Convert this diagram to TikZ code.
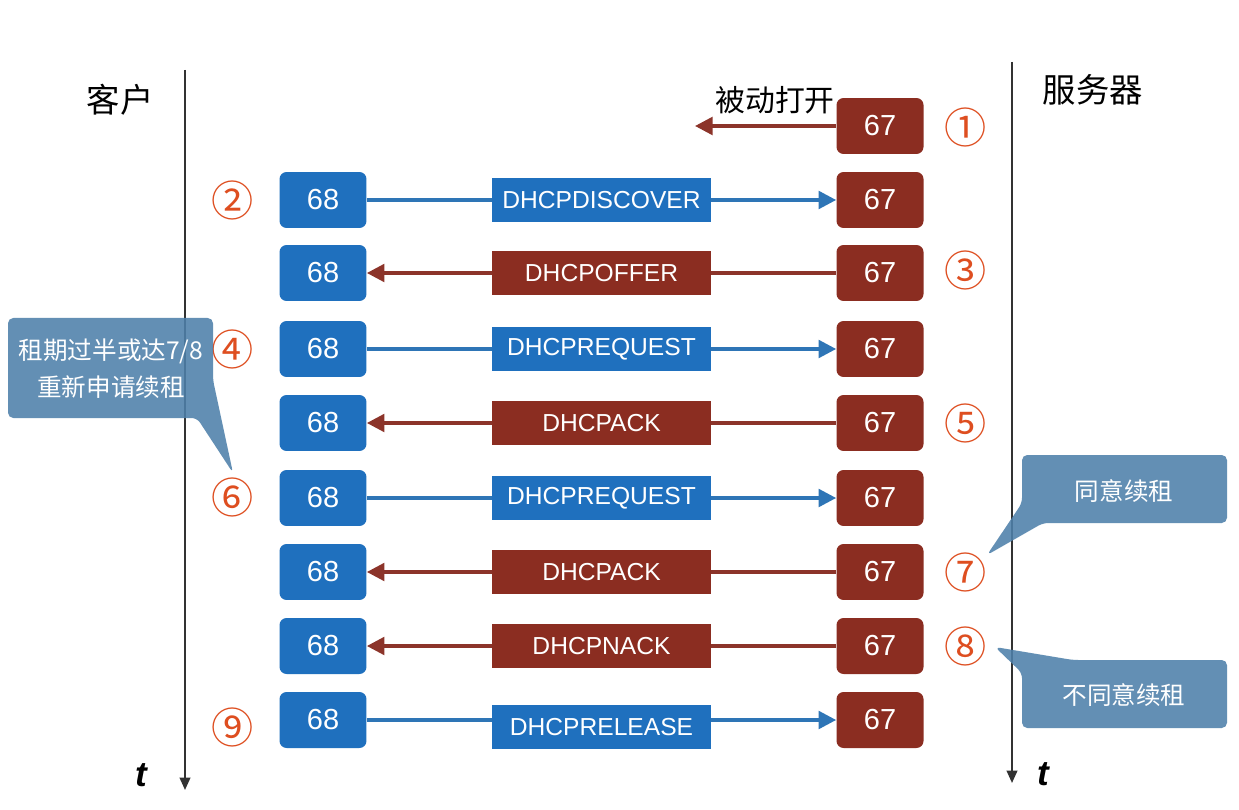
\documentclass[tikz,border=0pt]{standalone}
\usepackage{fontspec}
\setmainfont{Liberation Sans}
\newfontfamily\cjk{Noto Sans CJK SC}
\usetikzlibrary{arrows.meta}

\definecolor{portblue}{RGB}{31,112,190}
\definecolor{portred}{RGB}{139,45,33}
\definecolor{lineblue}{RGB}{46,117,182}
\definecolor{linered}{RGB}{140,52,42}
\definecolor{numred}{RGB}{222,78,32}
\definecolor{notefill}{RGB}{78,128,170}
\definecolor{axisgray}{RGB}{50,50,50}

\tikzset{
  client/.style={fill=portblue, rounded corners=4pt, minimum width=1.74cm, minimum height=1.12cm,
    inner sep=0pt, text=white, font=\fontsize{16.5}{16.5}\selectfont},
  server/.style={client, fill=portred},
  msgblue/.style={fill=portblue, minimum width=4.38cm, minimum height=0.88cm, inner sep=0pt,
    text=white, font=\fontsize{14}{14}\selectfont},
  msgred/.style={msgblue, fill=portred},
  toserver/.style={draw=lineblue, line width=2pt, -{Triangle[length=10pt,width=10pt]}},
  toclient/.style={draw=linered, line width=2pt, -{Triangle[length=10pt,width=10pt]}},
  num/.style={text=numred, font=\cjk\fontsize{24}{24}\selectfont, inner sep=0pt},
  timeline/.style={draw=axisgray, line width=1.1pt, -{Triangle[length=7pt,width=6pt]}},
  note/.style={fill=notefill, fill opacity=0.88, rounded corners=3pt},
  notetext/.style={text=white, align=center, font=\cjk\fontsize{14}{21}\selectfont}
}

\begin{document}
\begin{tikzpicture}[x=0.02cm, y=-0.02cm]
    \useasboundingbox[fill=white] (0,0) rectangle (1239,810);

    % Time lines
    \coordinate (ctop) at (185,70);
    \coordinate (cbot) at (185,790);
    \coordinate (stop) at (1012,62);
    \coordinate (sbot) at (1012,783);
    \draw[timeline] (ctop) -- (cbot);
    \draw[timeline] (stop) -- (sbot);
    \node[font=\cjk\fontsize{19}{19}\selectfont] (client) at (120,100) {客户};
    \node[font=\cjk\fontsize{19}{19}\selectfont] (server) at (1093,90) {服务器};
    \node[font=\fontsize{20}{20}\selectfont\bfseries\itshape] (tc) at (141,775) {t};
    \node[font=\fontsize{20}{20}\selectfont\bfseries\itshape] (ts) at (1043,774) {t};

    % 1: passive open
    \node[server] (s1) at (880,126) {67};
    \coordinate (open) at (695,126);
    \draw[toclient] (s1) -- (open);
    \node[font=\cjk\fontsize{17}{17}\selectfont] (passive) at (775,100) {被动打开};
    \node[num] (n1) at (966,127) {①};

    % 2: discover
    \node[client] (c2) at (323,200) {68};
    \node[server] (s2) at (880,200) {67};
    \draw[toserver] (c2) -- node[msgblue] (m2) {DHCPDISCOVER} (s2);
    \node[num] (n2) at (233,200) {②};

    % 3: offer
    \node[client] (c3) at (323,273) {68};
    \node[server] (s3) at (880,273) {67};
    \draw[toclient] (s3) -- node[msgred] (m3) {DHCPOFFER} (c3);
    \node[num] (n3) at (966,270) {③};

    % 4: request
    \node[client] (c4) at (323,349) {68};
    \node[server] (s4) at (880,349) {67};
    \draw[toserver] (c4) -- node[msgblue] (m4) {DHCPREQUEST} (s4);
    \node[num] (n4) at (233,349) {④};

    % 5: ack
    \node[client] (c5) at (323,423) {68};
    \node[server] (s5) at (880,423) {67};
    \draw[toclient] (s5) -- node[msgred] (m5) {DHCPACK} (c5);
    \node[num] (n5) at (966,423) {⑤};

    % 6: renew request
    \node[client] (c6) at (323,498) {68};
    \node[server] (s6) at (880,498) {67};
    \draw[toserver] (c6) -- node[msgblue] (m6) {DHCPREQUEST} (s6);
    \node[num] (n6) at (233,497) {⑥};

    % 7: renew ack
    \node[client] (c7) at (323,572) {68};
    \node[server] (s7) at (880,572) {67};
    \draw[toclient] (s7) -- node[msgred] (m7) {DHCPACK} (c7);
    \node[num] (n7) at (966,572) {⑦};

    % 8: renew nack
    \node[client] (c8) at (323,646) {68};
    \node[server] (s8) at (880,646) {67};
    \draw[toclient] (s8) -- node[msgred] (m8) {DHCPNACK} (c8);
    \node[num] (n8) at (966,646) {⑧};

    % 9: release
    \node[client] (c9) at (323,720) {68};
    \node[server] (s9) at (880,720) {67};
    \draw[toserver] (c9) -- node[msgblue, yshift=-4pt] (m9) {DHCPRELEASE} (s9);
    \node[num] (n9) at (233,727) {⑨};

    % Callouts
    \fill[note] (8,318) -- (213,318) -- (213,380) -- (233,473) -- (197,418) -- (8,418) -- cycle;
    \node[notetext] (renew) at (111,369) {租期过半或达7/8\\重新申请续租};
    \fill[note] (1022,455) -- (1227,455) -- (1227,523) -- (1043,523) -- (987,555) -- (1022,503) -- cycle;
    \node[notetext] (agree) at (1124,491) {同意续租};
    \fill[note] (1022,673) -- (995,647) -- (1073,660) -- (1227,660) -- (1227,728) -- (1022,728) -- cycle;
    \node[notetext] (refuse) at (1124,695) {不同意续租};

\end{tikzpicture}
\end{document}
